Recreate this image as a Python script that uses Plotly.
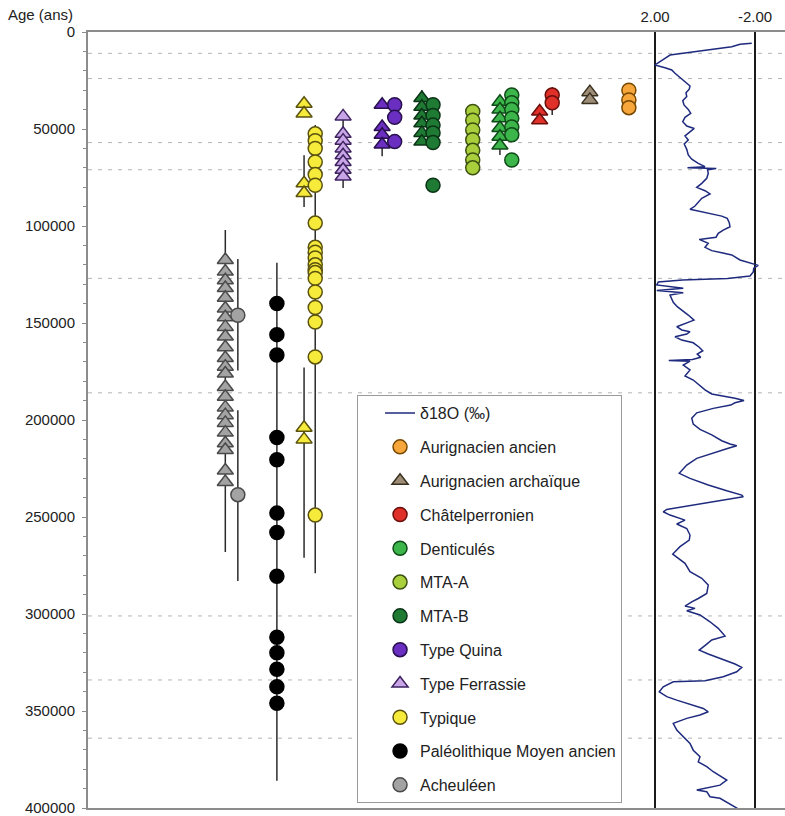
import plotly.graph_objects as go

# ---------------------------------------------------------------------------
# Data
# ---------------------------------------------------------------------------

# Age axis (years)
AGE_TICKS = list(range(0, 400001, 50000))

# Marine isotope stage boundaries (dashed guides)
STAGE_BOUNDARIES = [11000, 24000, 57000, 71000, 127000, 186000, 301000, 334000, 364000]

# Benthic δ18O record
D18O_AGE = [
    5800, 6300, 7600, 8900, 10700, 11900, 13600, 16100, 17000, 18400,
    19600, 21300, 23400, 25600, 27800, 29500, 31300, 33300, 35400, 37600,
    39900, 41900, 44000, 46200, 48500, 49700, 51400, 53600, 55700, 57700,
    60500, 63400, 65600, 67700, 69400, 70000, 70400, 71000, 72900, 75400,
    78000, 80100, 81800, 83500, 85700, 87500, 89700, 91400, 92300, 93500,
    94900, 96100, 98300, 100400, 102100, 103800, 105800, 106900, 108900, 111000,
    112700, 113800, 114900, 117500, 119200, 120300, 121700, 123700, 125800, 127100,
    127800, 128900, 130400, 132100, 133300, 134400, 135600, 137300, 139300, 141600,
    143700, 145900, 148500, 150200, 151900, 153600, 154500, 155700, 157100, 158800,
    160200, 162500, 164300, 166000, 167700, 168800, 169300, 169700, 171700, 174200,
    177300, 179400, 182000, 184500, 186600, 187600, 188800, 190000, 191100, 192300,
    194000, 196300, 199100, 202100, 204800, 207700, 210700, 212400, 213300, 214600,
    216900, 219800, 223200, 227500, 230100, 233500, 236500, 238700, 239600, 241300,
    243800, 246100, 247300, 249000, 251600, 253600, 255900, 259300, 261900, 265300,
    269100, 273900, 278200, 281600, 285100, 289400, 292000, 293700, 295900, 297100,
    298300, 300500, 304000, 307400, 311400, 313400, 315500, 318600, 320600, 323400,
    325800, 327500, 329800, 332300, 334400, 334900, 337500, 340100, 342600, 344400,
    346400, 348700, 350400, 352100, 353800, 356400, 359800, 363300, 366700, 370200,
    373600, 376200, 378700, 381300, 385600, 388200, 390700, 391600, 394200, 395000,
    397600, 399300, 401000, 403600,
]
D18O_VAL = [
    -1.87, -1.40, -1.07, -0.27, 0.87, 1.40, 1.60, 1.87, 2.00, 1.60,
    1.33, 1.20, 1.00, 0.80, 0.60, 0.63, 0.76, 0.73, 0.89, 0.84,
    0.67, 0.57, 0.80, 0.89, 0.73, 0.43, 0.60, 0.80, 0.67, 0.83,
    0.73, 0.67, 0.53, 0.27, 0.00, 0.70, -0.45, -0.10, -0.13, -0.07,
    0.13, 0.33, 0.00, -0.20, 0.13, 0.27, 0.40, 0.60, 0.27, -0.13,
    -0.67, -0.89, -0.97, -1.00, -0.73, -0.53, -0.44, 0.23, -0.13, 0.00,
    -0.27, -0.67, -1.07, -1.40, -1.80, -2.13, -1.95, -1.93, -1.80, -0.90,
    0.90, 1.87, 1.93, 0.87, 1.93, 0.87, 1.40, 1.33, 1.27, 1.11,
    0.89, 0.67, 0.44, 0.80, 1.13, 0.93, 0.60, 0.73, 1.20, 0.93,
    0.47, 0.23, 0.09, 0.31, 0.17, 0.50, 1.45, 0.60, 0.87, 0.60,
    0.80, 0.47, 0.23, 0.00, -0.27, -0.73, -1.20, -1.56, -1.20, -1.03,
    -0.33, 0.33, 0.53, 0.47, 0.20, -0.27, -0.67, -1.00, -1.27, -0.93,
    -0.33, 0.33, 0.73, 1.03, 0.60, -0.13, -0.87, -1.47, -1.53, -0.73,
    0.60, 1.53, 1.67, 1.40, 0.80, 1.13, 0.73, 0.60, 0.63, 1.00,
    1.29, 0.80, 0.60, 0.13, -0.13, -0.07, 0.27, 0.53, 0.80, 0.40,
    0.73, 0.20, -0.20, -0.53, -0.80, -0.27, -0.07, 0.23, -0.13, -0.73,
    -1.20, -1.47, -1.27, -0.73, 0.00, 1.27, 1.67, 1.83, 1.53, 1.13,
    0.60, 0.07, -0.13, 0.20, 0.73, 1.27, 1.13, 0.87, 0.60, 0.47,
    0.20, 0.27, -0.07, -0.33, -0.87, -0.60, 0.33, -0.07, -0.20, -0.60,
    -0.93, -1.13, -1.40, -1.80,
]

# Dated layers per industry (years): triangles and circles
AUR_ANCIEN_CIRC = [30000, 35000, 39000]

AUR_ARCH_TRI = [31000, 35000]

CHATEL_TRI = [41000, 45500]
CHATEL_CIRC = [32500, 36500]

DENT_TRI = [36000, 40000, 44500, 49500, 54000, 58500]
DENT_CIRC = [32500, 36500, 40000, 44500, 49000, 53000, 66000]

MTAA_CIRC = [41000, 45500, 50500, 55500, 61000, 66000, 70000]

MTAB_TRI = [34000, 38500, 43000, 47000, 52000, 56500]
MTAB_CIRC = [37500, 43000, 48000, 52000, 57000, 79000]

QUINA_TRI = [37500, 49000, 53000, 58000]
QUINA_CIRC = [37500, 44000, 56500]

FERRASSIE_TRI = [43500, 52500, 56000, 60000, 63500, 67000, 71000, 74500]

TYPIQUE_TRI = [37000, 42000, 78000, 83000, 204000, 210000]
TYPIQUE_CIRC = [52500, 56000, 60000, 67000, 73500, 79000, 98500, 111000, 113500,
                116500, 120000, 122500, 124000, 127000, 134000, 142000, 149500,
                167500, 249000]

PMA_CIRC = [140000, 156000, 166500, 209000, 220500, 248000, 258000, 280500,
            312000, 320000, 328500, 337500, 346000]

ACHEUL_TRI = [117500, 123500, 128000, 132000, 137000, 142500, 147000, 152000,
              157000, 162500, 168000, 172500, 176000, 183000, 188000, 193500,
              197500, 201500, 206500, 212000, 215500, 226000, 232000]
ACHEUL_CIRC = [146000, 238500]

# Uncertainty envelopes (min age, max age) drawn as vertical bars
CHATEL_CIRC_RANGE = [(28400, 42800)]
DENT_TRI_RANGE = [(33000, 63400)]
MTAB_TRI_RANGE = [(30000, 56500)]
QUINA_TRI_RANGE = [(56000, 64000)]
FERRASSIE_TRI_RANGE = [(43500, 80400)]
TYPIQUE_TRI_RANGE = [(63500, 90200), (173000, 271000)]
TYPIQUE_CIRC_RANGE = [(48000, 279000)]
PMA_CIRC_RANGE = [(119000, 386000)]
ACHEUL_TRI_RANGE = [(102000, 268000)]
ACHEUL_CIRC_RANGE = [(117000, 174500), (195000, 283000)]

# ---------------------------------------------------------------------------
# Styling / layout helpers
# ---------------------------------------------------------------------------

FONT = "Liberation Sans, Arial, sans-serif"
AXIS_GREY = "#8c8c8c"
BAR_COLOR = "#2b2b2b"
CIRCLE_SIZE = 14
TRIANGLE_SIZE = 14

# Horizontal slot of each column on a 0-100 scale
SLOT = {
    "ach_tri": 19.7, "ach_circ": 21.5,
    "pma": 27.1,
    "typ_tri": 31.0, "typ_circ": 32.6,
    "fer": 36.6,
    "qui_tri": 42.2, "qui_circ": 44.0,
    "mtab_tri": 47.9, "mtab_circ": 49.5,
    "mtaa": 55.2,
    "den_tri": 59.1, "den_circ": 60.8,
    "cha_tri": 64.8, "cha_circ": 66.6,
    "aar": 72.0,
    "aan": 77.6,
}

# δ18O panel axis: 2.00 and -2.00 guides near the right edge
D18O_RANGE = [24.68, -3.2]

fig = go.Figure()

# Stage boundaries as dashed horizontal guides
for age in STAGE_BOUNDARIES:
    fig.add_shape(type="line", xref="paper", x0=0, x1=1, yref="y", y0=age, y1=age,
                  line=dict(color="#b4b4b4", width=1, dash="4px,6px"), layer="below")

# δ18O curve
fig.add_trace(go.Scatter(
    x=D18O_VAL, y=D18O_AGE, xaxis="x2", yaxis="y", mode="lines",
    name="δ18O (‰)", legendgroup="d18o", legendrank=1,
    line=dict(color="#1e2a7d", width=1.5),
))

# Vertical uncertainty bars (drawn beneath the markers)
BAR_SETS = [
    ("cha_circ", CHATEL_CIRC_RANGE), ("den_tri", DENT_TRI_RANGE),
    ("mtab_tri", MTAB_TRI_RANGE), ("qui_tri", QUINA_TRI_RANGE),
    ("fer", FERRASSIE_TRI_RANGE), ("typ_tri", TYPIQUE_TRI_RANGE),
    ("typ_circ", TYPIQUE_CIRC_RANGE), ("pma", PMA_CIRC_RANGE),
    ("ach_tri", ACHEUL_TRI_RANGE), ("ach_circ", ACHEUL_CIRC_RANGE),
]
bx, by = [], []
for slot, ranges in BAR_SETS:
    for lo, hi in ranges:
        bx += [SLOT[slot], SLOT[slot], None]
        by += [lo, hi, None]
fig.add_trace(go.Scatter(x=bx, y=by, mode="lines", showlegend=False,
                         hoverinfo="skip",
                         line=dict(color=BAR_COLOR, width=1.5)))


def add_points(ages, slot, symbol, fill, edge, name, group, rank, show):
    size = CIRCLE_SIZE if symbol == "circle" else TRIANGLE_SIZE
    fig.add_trace(go.Scatter(
        x=[SLOT[slot]] * len(ages), y=ages, mode="markers",
        name=name, legendgroup=group, legendrank=rank, showlegend=show,
        marker=dict(symbol=symbol, size=size, color=fill,
                    line=dict(color=edge, width=1.5)),
    ))


# Acheuléen
add_points(ACHEUL_TRI, "ach_tri", "triangle-up", "#a3a3a3", "#4a4a4a",
           "Acheuléen", "ach", 12, False)
add_points(ACHEUL_CIRC, "ach_circ", "circle", "#a3a3a3", "#4a4a4a",
           "Acheuléen", "ach", 12, True)
# Paléolithique Moyen ancien
add_points(PMA_CIRC, "pma", "circle", "#000000", "#000000",
           "Paléolithique Moyen ancien", "pma", 11, True)
# Typique
add_points(TYPIQUE_TRI, "typ_tri", "triangle-up", "#f6ea3a", "#5a520e",
           "Typique", "typ", 10, False)
add_points(TYPIQUE_CIRC, "typ_circ", "circle", "#f6ea3a", "#5a520e",
           "Typique", "typ", 10, True)
# Type Ferrassie
add_points(FERRASSIE_TRI, "fer", "triangle-up", "#c8a5e6", "#3e2360",
           "Type Ferrassie", "fer", 9, True)
# Type Quina
add_points(QUINA_TRI, "qui_tri", "triangle-up", "#6a2ec0", "#28104f",
           "Type Quina", "qui", 8, False)
add_points(QUINA_CIRC, "qui_circ", "circle", "#6a2ec0", "#28104f",
           "Type Quina", "qui", 8, True)
# MTA-B
add_points(MTAB_TRI, "mtab_tri", "triangle-up", "#1f7a34", "#0b3316",
           "MTA-B", "mtab", 7, False)
add_points(MTAB_CIRC, "mtab_circ", "circle", "#1f7a34", "#0b3316",
           "MTA-B", "mtab", 7, True)
# MTA-A
add_points(MTAA_CIRC, "mtaa", "circle", "#a9d03c", "#3d5110",
           "MTA-A", "mtaa", 6, True)
# Denticulés
add_points(DENT_TRI, "den_tri", "triangle-up", "#3cb54a", "#0f4a18",
           "Denticulés", "den", 5, False)
add_points(DENT_CIRC, "den_circ", "circle", "#3cb54a", "#0f4a18",
           "Denticulés", "den", 5, True)
# Châtelperronien
add_points(CHATEL_TRI, "cha_tri", "triangle-up", "#e0302a", "#6a0e0b",
           "Châtelperronien", "cha", 4, False)
add_points(CHATEL_CIRC, "cha_circ", "circle", "#e0302a", "#6a0e0b",
           "Châtelperronien", "cha", 4, True)
# Aurignacien archaïque
add_points(AUR_ARCH_TRI, "aar", "triangle-up", "#9d8d76", "#3a3020",
           "Aurignacien archaïque", "aar", 3, True)
# Aurignacien ancien
add_points(AUR_ANCIEN_CIRC, "aan", "circle", "#f6a63a", "#774800",
           "Aurignacien ancien", "aan", 2, True)

fig.add_annotation(text="Age (ans)", xref="paper", yref="paper",
                   x=-0.019, y=1.0225, xanchor="right", yanchor="middle",
                   showarrow=False, font=dict(size=15, color="#222", family=FONT))

fig.update_layout(
    width=785, height=816,
    margin=dict(l=88, r=0, t=32, b=8),
    paper_bgcolor="white", plot_bgcolor="white",
    font=dict(family=FONT, size=15, color="#222"),
    xaxis=dict(range=[0, 100], showgrid=False, zeroline=False,
               showticklabels=False, ticks="", showline=True,
               linecolor=AXIS_GREY, linewidth=2, mirror=True, fixedrange=True),
    xaxis2=dict(overlaying="x", side="top", range=D18O_RANGE,
                tickvals=[2, -2], ticktext=["2.00", "-2.00"],
                showgrid=True, gridcolor="#1a1a1a", gridwidth=1.5,
                zeroline=False, showline=False, ticks="",
                ticklabelstandoff=6),
    yaxis=dict(range=[400000, 0], tickvals=AGE_TICKS, tickformat="d",
               showgrid=False, zeroline=False, showline=True,
               linecolor=AXIS_GREY, linewidth=2,
               ticks="outside", ticklen=4, tickcolor=AXIS_GREY,
               ticklabelstandoff=4, ticklabeloverflow="allow",
               minor=dict(dtick=10000, ticks="outside", ticklen=3,
                          tickcolor=AXIS_GREY)),
    legend=dict(x=0.386, y=0.532, xanchor="left", yanchor="top",
                bgcolor="white", bordercolor="#9a9a9a", borderwidth=1,
                tracegroupgap=10, indentation=22, entrywidth=218,
                font=dict(size=16, family=FONT, color="#222")),
    showlegend=True,
)

fig.write_html("out.html")
